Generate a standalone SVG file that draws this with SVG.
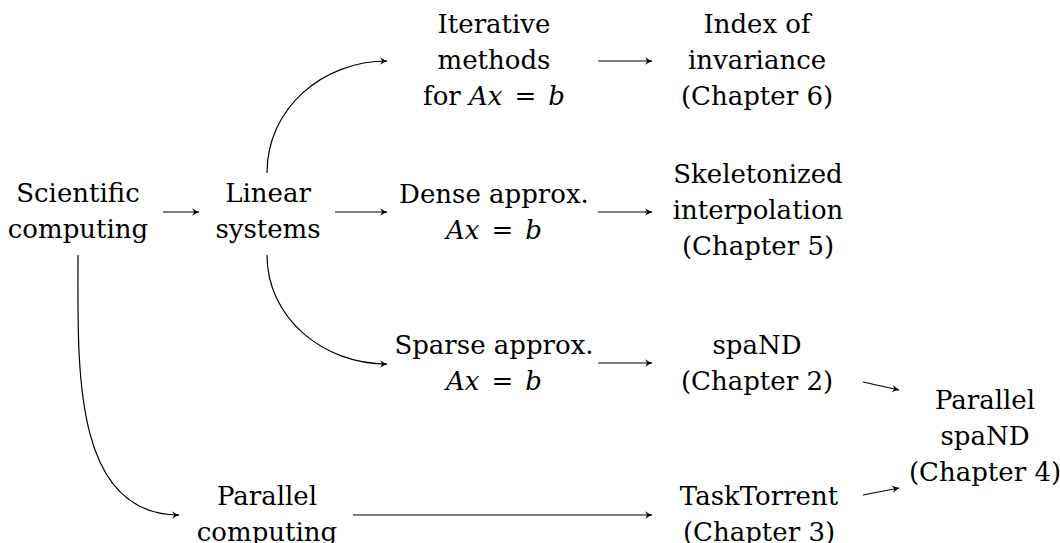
<svg xmlns="http://www.w3.org/2000/svg" width="1060" height="543" viewBox="0 0 1060 543">
<style>
  text { font-size: 26px; fill: #000; text-anchor: middle; }
  .m { font-style: italic; }
  .c { fill: none; stroke: #000; stroke-width: 1.2; marker-end: url(#ah); }
</style>
<defs>
  <marker id="ah" markerUnits="userSpaceOnUse" markerWidth="12" markerHeight="10" refX="0" refY="0" viewBox="-8 -5 9 10" orient="auto" overflow="visible">
    <path d="M0.5,0 Q-3,-1 -7,-3.8 Q-5,-1 -5,0 Q-5,1 -7,3.8 Q-3,1 0.5,0 Z" fill="#000"/>
  </marker>
</defs>
<rect width="1060" height="543" fill="#fff"/>
<g id="connectors">
  <path class="c" d="M163,212 L199,212"/>
  <path class="c" d="M335,212 L387,212"/>
  <path class="c" d="M267,173 C267,108 323,61 387,61"/>
  <path class="c" d="M267,255 C267,318 323,364 387,364"/>
  <path class="c" d="M78,255 C78,364 71,515 179,515"/>
  <path class="c" d="M598,61 L652,61"/>
  <path class="c" d="M598,212 L652,212"/>
  <path class="c" d="M598,363 L652,363"/>
  <path class="c" d="M353,515 L652,515"/>
  <path class="c" d="M863,382 L899,390"/>
  <path class="c" d="M863,495 L899,488"/>
</g>
<g id="scientific" font-family="DejaVu Serif">
  <text x="78" y="202">Scientific</text>
  <text x="78" y="238">computing</text>
</g>
<g id="linear" font-family="DejaVu Serif">
  <text x="268" y="202">Linear</text>
  <text x="268" y="238">systems</text>
</g>
<g id="iterative" font-family="DejaVu Serif">
  <text x="494" y="33">Iterative</text>
  <text x="494" y="69">methods</text>
  <text x="494" y="105">for <tspan class="m">Ax</tspan><tspan dx="12">=</tspan><tspan class="m" dx="12">b</tspan></text>
</g>
<g id="index" font-family="DejaVu Serif">
  <text x="757" y="33">Index of</text>
  <text x="757" y="69">invariance</text>
  <text x="757" y="105">(Chapter 6)</text>
</g>
<g id="dense" font-family="DejaVu Serif">
  <text x="494" y="203">Dense approx.</text>
  <text x="494" y="239"><tspan class="m">Ax</tspan><tspan dx="12">=</tspan><tspan class="m" dx="12">b</tspan></text>
</g>
<g id="skeleton" font-family="DejaVu Serif">
  <text x="758" y="183">Skeletonized</text>
  <text x="758" y="219">interpolation</text>
  <text x="758" y="255">(Chapter 5)</text>
</g>
<g id="sparse" font-family="DejaVu Serif">
  <text x="494" y="354">Sparse approx.</text>
  <text x="494" y="390"><tspan class="m">Ax</tspan><tspan dx="12">=</tspan><tspan class="m" dx="12">b</tspan></text>
</g>
<g id="spand" font-family="DejaVu Serif">
  <text x="757" y="354">spaND</text>
  <text x="757" y="390">(Chapter 2)</text>
</g>
<g id="parallel" font-family="DejaVu Serif">
  <text x="267" y="505">Parallel</text>
  <text x="267" y="541">computing</text>
</g>
<g id="tasktorrent" font-family="DejaVu Serif">
  <text x="759" y="505">TaskTorrent</text>
  <text x="759" y="541">(Chapter 3)</text>
</g>
<g id="parallelspand" font-family="DejaVu Serif">
  <text x="985" y="409">Parallel</text>
  <text x="985" y="445">spaND</text>
  <text x="985" y="481">(Chapter 4)</text>
</g>
</svg>
